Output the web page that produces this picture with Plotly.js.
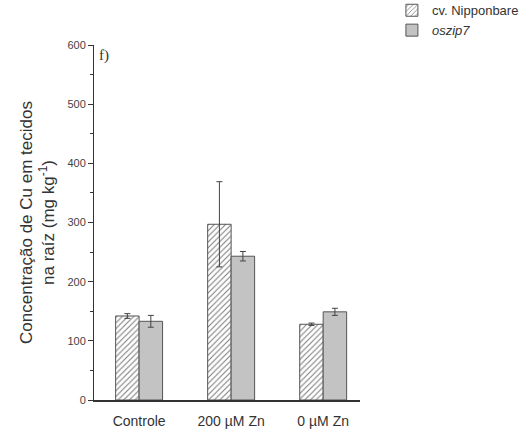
<!DOCTYPE html>
<html><head><meta charset="utf-8">
<script src="https://cdn.plot.ly/plotly-3.0.1.min.js"></script>
<style>body{margin:0;background:#fff}#c{width:529px;height:436px}</style>
</head><body><div id="c"></div>
<script>
const categories = ["Controle", "200 µM Zn", "0 µM Zn"];
const nipponbare = [142, 297, 128];
const nipponbareErr = [4, 72, 2];
const oszip7 = [133, 243, 149];
const oszip7Err = [10, 8, 6];
const yTicks = [0, 100, 200, 300, 400, 500, 600];

const narrow = "Liberation Sans Narrow, Arial Narrow, Liberation Sans, Arial, sans-serif";
const sans = "Liberation Sans, Arial, sans-serif";

const traces = [
  {
    type: "bar", name: "cv. Nipponbare", x: [0, 1, 2], y: nipponbare,
    error_y: {type: "data", array: nipponbareErr, visible: true, color: "#444", thickness: 1, width: 3},
    marker: {color: "#ffffff", line: {color: "#555", width: 1},
      pattern: {shape: "/", fgcolor: "#7a7a7a", bgcolor: "#ffffff", size: 4, solidity: 0.25, fillmode: "replace"}}
  },
  {
    type: "bar", name: "<i>oszip7</i>", x: [0, 1, 2], y: oszip7,
    error_y: {type: "data", array: oszip7Err, visible: true, color: "#444", thickness: 1, width: 3},
    marker: {color: "#c3c3c3", line: {color: "#555", width: 1}}
  }
];

const layout = {
  width: 529, height: 436,
  margin: {l: 94, r: 169, t: 45, b: 36, autoexpand: false},
  paper_bgcolor: "#fff", plot_bgcolor: "#fff",
  barmode: "group", bargap: 0.49, bargroupgap: 0,
  showlegend: true,
  legend: {x: 1.12, xanchor: "left", y: 1.14, yanchor: "top",
    font: {family: sans, size: 13, color: "#333"}, tracegroupgap: 0, itemwidth: 30},
  xaxis: {
    range: [-0.49, 2.4], tickvals: [0, 1, 2], ticktext: categories,
    showline: true, linecolor: "#333", linewidth: 1.5, ticks: "", showgrid: false, zeroline: false,
    ticklabelstandoff: 8,
    tickfont: {family: narrow, size: 14, color: "#333"}
  },
  yaxis: {
    range: [0, 600], tickvals: yTicks, showline: true, linecolor: "#333", linewidth: 1,
    ticks: "outside", ticklen: 5, tickcolor: "#333", showgrid: false, zeroline: false,
    minor: {dtick: 50, ticks: "outside", ticklen: 3, tickcolor: "#333"},
    tickfont: {family: narrow, size: 11, color: "#444"},
    title: {text: "Concentração de Cu em tecidos<br>na raíz (mg kg<sup>-1</sup>)",
      font: {family: sans, size: 17, color: "#333"}, standoff: 8}
  },
  annotations: [
    {text: "f)", xref: "paper", yref: "paper", x: 0.01, y: 1.0, xanchor: "left", yanchor: "top",
     showarrow: false, font: {family: "Liberation Serif, Times New Roman, serif", size: 15, color: "#333"}}
  ]
};

Plotly.newPlot("c", traces, layout, {displayModeBar: false, staticPlot: true});
</script></body></html>
